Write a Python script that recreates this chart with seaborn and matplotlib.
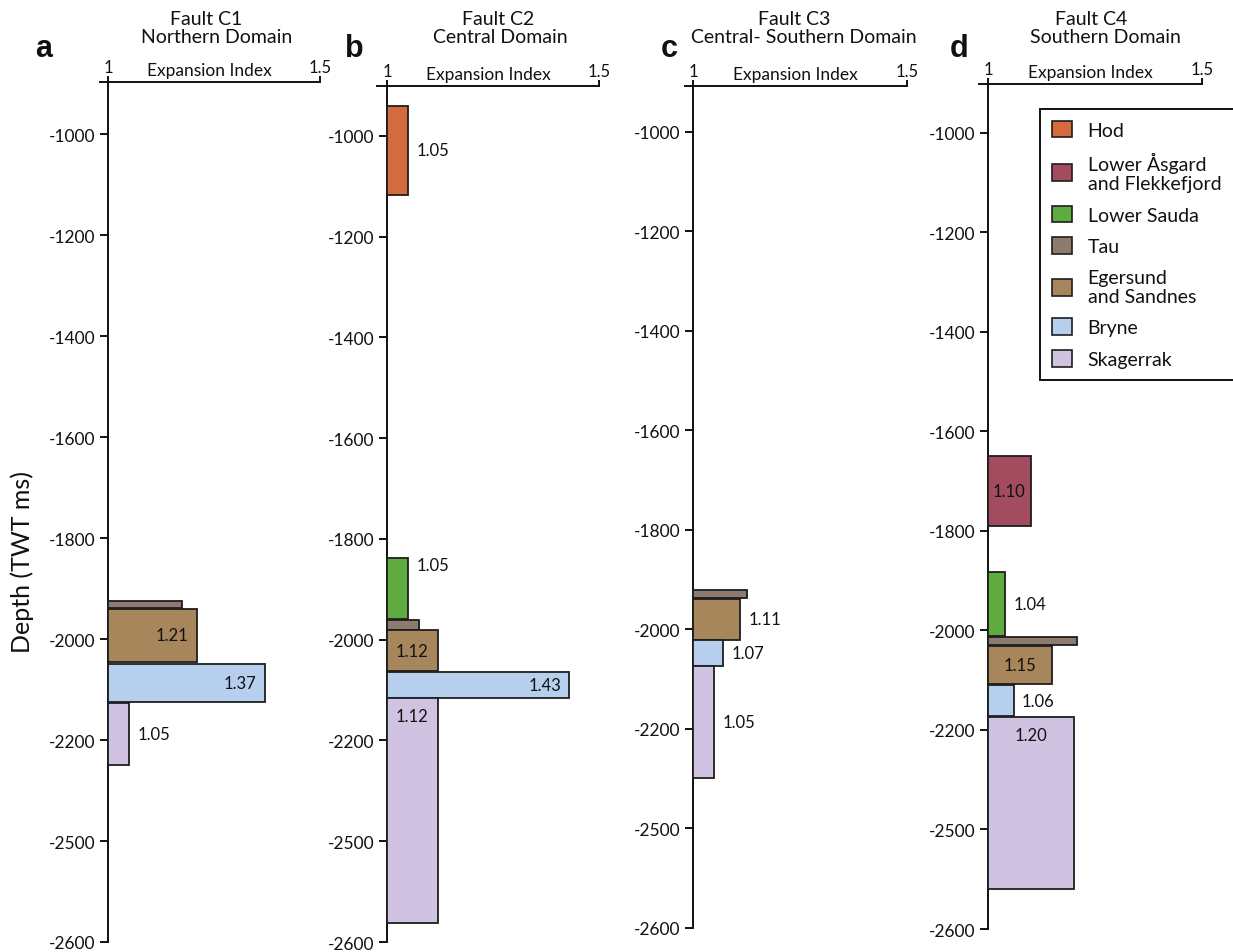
import matplotlib
matplotlib.use("Agg")
import matplotlib.pyplot as plt
from matplotlib.patches import Patch
import seaborn as sns

# ---- formations and colours ----
formations = ["Hod", "Lower Åsgard\nand Flekkefjord", "Lower Sauda", "Tau",
              "Egersund\nand Sandnes", "Bryne", "Skagerrak"]
formation_colors = ["#D36B3F", "#A34C5F", "#5EAB3F", "#8C7B6E",
                    "#A6865A", "#B7CFEF", "#D0C3E1"]

# ---- Fault C1, Northern Domain ----
c1_units = ["Tau", "Egersund\nand Sandnes", "Bryne", "Skagerrak"]
c1_top = [-1925, -1940, -2050, -2127]
c1_base = [-1938, -2045, -2125, -2250]
c1_ei = [1.175, 1.21, 1.37, 1.05]

# ---- Fault C2, Central Domain ----
c2_units = ["Hod", "Lower Sauda", "Tau", "Egersund\nand Sandnes", "Bryne", "Skagerrak"]
c2_top = [-940, -1837, -1960, -1980, -2065, -2115]
c2_base = [-1117, -1958, -1980, -2063, -2115, -2563]
c2_ei = [1.05, 1.05, 1.075, 1.12, 1.43, 1.12]

# ---- Fault C3, Central-Southern Domain ----
c3_units = ["Tau", "Egersund\nand Sandnes", "Bryne", "Skagerrak"]
c3_top = [-1920, -1938, -2022, -2074]
c3_base = [-1936, -2022, -2074, -2299]
c3_ei = [1.126, 1.11, 1.07, 1.05]

# ---- Fault C4, Southern Domain ----
c4_units = ["Lower Åsgard\nand Flekkefjord", "Lower Sauda", "Tau",
            "Egersund\nand Sandnes", "Bryne", "Skagerrak"]
c4_top = [-1649, -1882, -2013, -2031, -2110, -2174]
c4_base = [-1790, -2011, -2029, -2108, -2172, -2520]
c4_ei = [1.10, 1.04, 1.208, 1.15, 1.06, 1.20]

# depth axis ticks
depth_ticks = [-1000, -1200, -1400, -1600, -1800, -2000, -2200, -2400, -2600]
depth_tick_labels = ["-1000", "-1200", "-1400", "-1600", "-1800", "-2000",
                     "-2200", "-2500", "-2600"]

# ---- styling ----
sns.set_theme(style="ticks")
plt.rcParams["font.family"] = ["Lato", "DejaVu Sans"]
palette = dict(zip(formations, sns.color_palette(formation_colors)))

W, H = 1233, 953
fig = plt.figure(figsize=(W / 100, H / 100), dpi=100)


def fx(x):
    return x / W


def fy(y):
    return 1 - y / H


panels = [
    dict(letter="a", title=("Fault C1", "Northern Domain"), t1x=206, t2x=217, lx=35,
         units=c1_units, top=c1_top, base=c1_base, ei=c1_ei,
         where=[None, "inside", "inside", "outside"],
         box=(100, 320, 83, 943), x1=108, ylim=(-2600, -897)),
    dict(letter="b", title=("Fault C2", "Central Domain"), t1x=498, t2x=500, lx=345,
         units=c2_units, top=c2_top, base=c2_base, ei=c2_ei,
         where=["outside", "outside_top", None, "center", "inside", "top"],
         box=(377, 599, 87, 943), x1=387, ylim=(-2600, -901)),
    dict(letter="c", title=("Fault C3", "Central- Southern Domain"), t1x=794, t2x=804, lx=661,
         units=c3_units, top=c3_top, base=c3_base, ei=c3_ei,
         where=[None, "outside", "outside", "outside"],
         box=(685, 907, 87, 929), x1=693, ylim=(-2600, -908)),
    dict(letter="d", title=("Fault C4", "Southern Domain"), t1x=1091, t2x=1105, lx=950,
         units=c4_units, top=c4_top, base=c4_base, ei=c4_ei,
         where=["center", "outside", None, "center", "outside", "top"],
         box=(979, 1202, 85, 930), x1=988, ylim=(-2600, -902)),
]

for p in panels:
    left, right, top, bottom = p["box"]
    ax = fig.add_axes([fx(left), fy(bottom), (right - left) / W, (bottom - top) / H])
    ax.set_facecolor("none")
    x_lo = 1 - (p["x1"] - left) / (right - p["x1"]) * 0.5
    ax.set_xlim(x_lo, 1.5)
    ax.set_ylim(*p["ylim"])

    for unit, t, b, v, where in zip(p["units"], p["top"], p["base"], p["ei"], p["where"]):
        ax.barh(t, v - 1, height=b - t, left=1, align="edge",
                color=palette[unit], edgecolor="#1e1e1e", linewidth=1.3, zorder=3)
        if where is None:
            continue
        txt = f"{v:.2f}"
        mid = (t + b) / 2
        kw = dict(fontsize=12, color="#111111", zorder=4, textcoords="offset points")
        if where == "outside":
            ax.annotate(txt, (v, mid), xytext=(6, 0), ha="left", va="center", **kw)
        elif where == "outside_top":
            ax.annotate(txt, (v, t), xytext=(6, -5), ha="left", va="center", **kw)
        elif where == "inside":
            ax.annotate(txt, (v, mid), xytext=(-6, 0), ha="right", va="center", **kw)
        elif where == "center":
            ax.annotate(txt, ((1 + v) / 2, mid), xytext=(0, 0), ha="center", va="center", **kw)
        elif where == "top":
            ax.annotate(txt, ((1 + v) / 2, t), xytext=(0, -13), ha="center", va="center", **kw)

    # axes: top spine as the index scale, left spine at index 1
    sns.despine(ax=ax, top=False, right=True, bottom=True, left=False)
    ax.spines["left"].set_position(("data", 1))
    for s in ("top", "left"):
        ax.spines[s].set_color("#111111")
        ax.spines[s].set_linewidth(1.4)
    ax.xaxis.tick_top()
    ax.set_xticks([1, 1.5])
    ax.set_xticklabels(["1", "1.5"])
    ax.tick_params(axis="x", direction="out", length=4, width=1.4, pad=1,
                   labelsize=12, colors="#111111")
    ax.set_yticks(depth_ticks)
    ax.set_yticklabels(depth_tick_labels)
    ax.tick_params(axis="y", direction="out", length=6, width=1.4, pad=3,
                   labelsize=12.5, colors="#111111")
    ax.grid(False)
    ax.annotate("Expansion Index", (1.24, 1), xycoords=("data", "axes fraction"),
                xytext=(0, 5), textcoords="offset points", ha="center", va="baseline",
                fontsize=12.5, color="#111111")

    # panel titles and letters
    fig.text(fx(p["t1x"]), fy(25), p["title"][0], ha="center", va="baseline",
             fontsize=14, color="#111111")
    fig.text(fx(p["t2x"]), fy(43), p["title"][1], ha="center", va="baseline",
             fontsize=14, color="#111111")
    fig.text(fx(p["lx"]), fy(57), p["letter"], ha="left", va="baseline",
             fontsize=22, fontweight="bold", family=["Liberation Sans", "DejaVu Sans"],
             color="#111111")

fig.text(fx(22), fy(562), "Depth (TWT ms)", rotation=90, ha="center", va="center",
         fontsize=18, color="#111111")

handles = [Patch(facecolor=palette[f], edgecolor="#1e1e1e", linewidth=1.2) for f in formations]
leg = fig.legend(handles, formations, loc="upper left",
                 bbox_to_anchor=(fx(1040), fy(110), (1250 - 1040) / W, 0), mode="expand",
                 fontsize=14, frameon=True, fancybox=False, framealpha=1,
                 edgecolor="#111111", borderpad=0.6, handlelength=1.05, handleheight=0.95,
                 handletextpad=0.8, labelspacing=0.7, borderaxespad=0)
leg.get_frame().set_linewidth(1.4)
for t in leg.get_texts():
    t.set_linespacing(1.12)
    t.set_color("#111111")

fig.savefig("out.png", dpi=100)
